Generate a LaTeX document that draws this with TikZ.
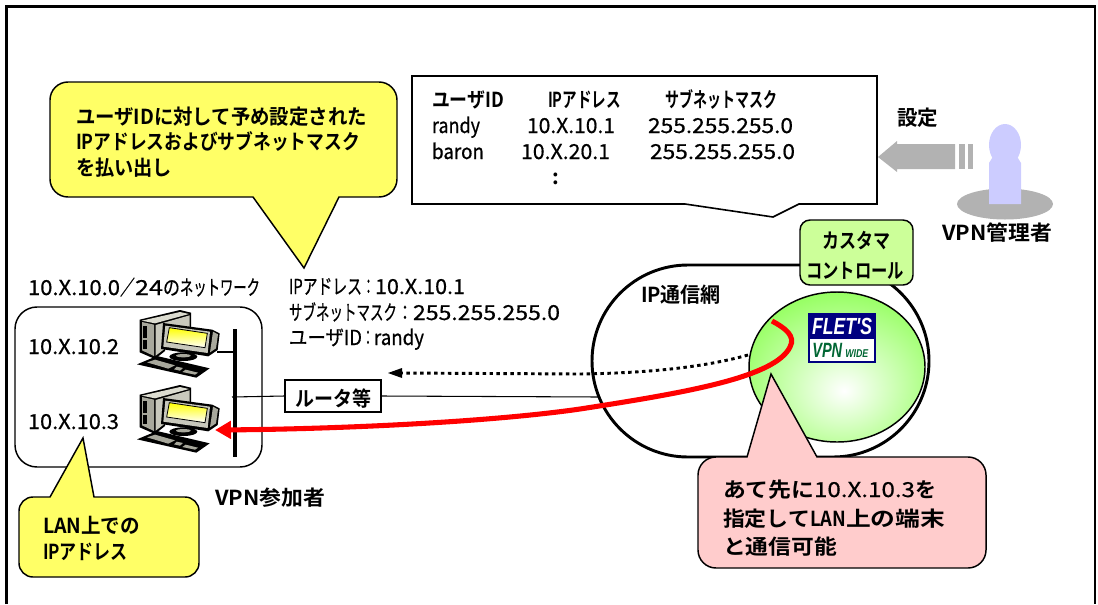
\documentclass[tikz,border=0pt]{standalone}
\usepackage{fontspec}
\usepackage{graphicx}
\setmainfont{Noto Sans CJK JP}[BoldFont=* Bold]
\newfontfamily\medf{Noto Sans CJK JP}[FakeBold=0.6]
\newfontfamily\logofont{Liberation Sans}
\usetikzlibrary{arrows.meta}
\newlength\pxu \setlength\pxu{0.75pt}
\newcommand\tx[2]{\resizebox{#1\pxu}{\height}{#2}}
\definecolor{calloutyellow}{HTML}{FFFF66}
\definecolor{calloutpink}{HTML}{FFCCCC}
\definecolor{boxgreen}{HTML}{CCFF99}
\definecolor{ballgreen}{HTML}{99FF66}
\definecolor{midgray}{HTML}{B2B2B2}
\definecolor{personblue}{HTML}{CCCCFF}
\definecolor{logonavy}{HTML}{000080}
\definecolor{logogreen}{HTML}{006633}
\definecolor{linered}{HTML}{FF0000}
\definecolor{pcface}{HTML}{A8A89C}
\definecolor{pcside}{HTML}{C8C8BC}
\definecolor{pctop}{HTML}{DCDCD0}
\pgfdeclareradialshading{ballshade}{\pgfpoint{2bp}{-8bp}}{color(0bp)=(white);color(30bp)=(ballgreen);color(50bp)=(ballgreen);color(100bp)=(ballgreen)}
\tikzset{
  lbl/.style={anchor=base west,inner sep=0pt,outer sep=0pt,font=\fontsize{15.5pt}{18pt}\selectfont\bfseries},
  reg/.style={lbl,font=\fontsize{15.5pt}{18pt}\selectfont\medf},
  callout/.style={draw=black,line width=1.1pt},
  pc/.pic={
    \begin{scope}[x=0.25pt,y=-0.25pt,draw=black,line width=0.5pt]
      \fill[black] (44,44)--(165,15)--(198,23)--(198,74)--(126,94)--(120,138)--(90,162)--(44,142)--cycle;
      \fill[pctop] (50,47)--(165,21)--(192,27)--(90,55)--cycle;
      \fill[pcface] (51,51)--(87,59)--(87,153)--(51,136)--cycle;
      \fill[pcside] (92,60)--(194,31)--(194,68)--(124,88)--(117,133)--(92,152)--cycle;
      \fill[black] (54,62) rectangle (66,100);
      \fill[black] (54,106) rectangle (66,132);
      \fill[black] (175,155) ellipse (42 and 13);
      \fill[pcface] (175,152) ellipse (22 and 5);
      \fill[black] (36,178)--(96,153)--(254,190)--(214,218)--cycle;
      \fill[pcface] (66,172)--(90,164)--(150,181)--(130,191)--cycle;
      \fill[pcface] (155,185)--(174,189)--(165,197)--(147,193)--cycle;
      \fill[pcface] (182,194)--(219,203)--(210,209)--(172,201)--cycle;
      \fill[black] (114,54)--(262,74)--(284,85)--(278,135)--(250,154)--(108,132)--cycle;
      \fill[pcface] (264,80)--(279,88)--(273,130)--(255,142)--cycle;
      \fill[pcside] (121,62)--(255,80)--(248,144)--(115,125)--cycle;
      \shade[top color=yellow,bottom color=white,draw=black,line width=0.6pt] (133,68)--(247,85)--(240,128)--(125,111)--cycle;
    \end{scope}
  }
}
\begin{document}
\begin{tikzpicture}[x=0.75pt,y=-0.75pt]
\useasboundingbox (0,0) rectangle (1098,604);
% outer frame
\coordinate (fa) at (6.5,604); \coordinate (fb) at (6.5,6.5); \coordinate (fc) at (1095,6.5); \coordinate (fd) at (1095,604);
\draw[line width=1.6pt] (fa)--(fb)--(fc)--(fd);

% LAN box
\draw[line width=1.1pt,rounded corners=16.5pt] (15,307) rectangle (262,467);
% bus and PCs
\coordinate (bust) at (235,329); \coordinate (busb) at (235,457); \coordinate (bushub) at (232,397);
\coordinate (pcport) at (217,352); \coordinate (busport) at (235,352);
\draw[line width=2.4pt] (bust)--(busb);
\draw[line width=1.8pt] (pcport)--(busport);
\pic at (125,305) {pc};
\pic at (125,380) {pc};

% IP network
\draw[line width=2.2pt,rounded corners=72pt] (592,265) rectangle (929,457);
% green ball
\shade[shading=ballshade] (837,367) ellipse (88 and 75);
\draw[line width=1.1pt] (837,367) ellipse (88 and 75);

% logo
\fill[logonavy] (808,313) rectangle (876,363);
\fill[white] (810,339) rectangle (874,361);
\node[inner sep=0pt,text=white,font=\logofont\fontsize{17.5pt}{18pt}\selectfont\bfseries\itshape] (flets) at (842,326) {\resizebox{60\pxu}{\height}{FLET'S}};
\node[anchor=base west,inner sep=0pt,text=logogreen,font=\logofont\fontsize{15.5pt}{16pt}\selectfont\bfseries\itshape] (vpnw) at (812,357) {\resizebox{30\pxu}{\height}{VPN}};
\node[anchor=base west,inner sep=0pt,text=logogreen,font=\logofont\fontsize{8.5pt}{9pt}\selectfont\bfseries\itshape] (wide) at (845,357) {\resizebox{23\pxu}{\height}{WIDE}};

% router and line
\node[draw,line width=1.1pt,minimum width=72pt,minimum height=24pt,inner sep=0pt] (router) at (333,396) {};
\node[lbl] (routertxt) at (295,406) {\tx{76}{ルータ等}};
\coordinate (cloudl) at (600,397);
\draw[line width=0.8pt] (bushub)--(router.west);
\draw[line width=0.8pt] (router.east)--(cloudl);

% dotted
\coordinate (dots) at (748,355); \coordinate (dotm) at (580,374); \coordinate (dote) at (388,373);
\draw[line width=2.2pt,dash pattern=on 2.6pt off 2.6pt] (dots) .. controls (705,367) and (650,373) .. (dotm) -- (400,373);
\fill (dote)--(402,368)--(402,378)--cycle;

% red line
\coordinate (reds) at (772,321); \coordinate (redm) at (790,347); \coordinate (redn) at (580,409); \coordinate (rede) at (215,430);
\draw[linered,line width=3.8pt,-{Triangle[length=12pt,width=13pt]}] (reds) .. controls (785,328) and (796,336) .. (redm) .. controls (775,377) and (690,392) .. (redn) .. controls (490,422) and (340,429) .. (rede);

% green box
\node[draw,fill=boxgreen,line width=1.1pt,rounded corners=7.5pt,minimum width=84.75pt,minimum height=48.75pt,inner sep=0pt] (cust) at (856.5,252.5) {};
\node[lbl] (custa) at (822,248) {\tx{68}{カスタマ}};
\node[lbl] (custb) at (806,278) {\tx{98}{コントロール}};

% table callout
\draw[fill=white,line width=1.2pt] (412,76)--(877,76)--(877,204)--(799,204)--(773,217)--(685,204)--(412,204)--cycle;
\node[lbl] (h1) at (432,107) {\tx{72}{ユーザID}};
\node[lbl] (h2) at (548,107) {\tx{73}{IPアドレス}};
\node[lbl] (h3) at (665,107) {\tx{112}{サブネットマスク}};
\node[reg] (r1) at (432,133) {\tx{48}{randy}};
\node[reg] (r2) at (527,133) {\tx{88}{10.X.10.1}};
\node[reg] (r3) at (648,133) {\tx{145}{255.255.255.0}};
\node[reg] (b1) at (432,159) {\tx{52}{baron}};
\node[reg] (b2) at (521,159) {\tx{89}{10.X.20.1}};
\node[reg] (b3) at (650,159) {\tx{145}{255.255.255.0}};
\node[lbl] (dd) at (552,184) {:};

% grey arrow
\fill[midgray] (878,157)--(897,141)--(897,144)--(955,144)--(955,169)--(897,169)--(897,172)--cycle;
\fill[midgray] (959,144) rectangle (965,169);
\fill[midgray] (968,144) rectangle (973,169);
\node[lbl] (settei) at (897,125) {\tx{41}{設定}};

% admin
\fill[midgray] (1005,204) ellipse (48 and 15.5);
\fill[personblue] (1005,145) ellipse (16 and 21);
\fill[personblue] (989,204)--(989,163)--(994,155)--(1016,155)--(1021,163)--(1021,204)--cycle;
\node[lbl] (admin) at (942,240) {\tx{110}{VPN管理者}};

% yellow callout
\draw[callout,fill=calloutyellow] (200,82) [rounded corners=13.5pt] -- (397,82) -- (397,197) [sharp corners] -- (339,197) -- (304,268) -- (253,197) [rounded corners=13.5pt] -- (50,197) -- (50,82) -- cycle;
\node[lbl] (y1) at (76,124) {\tx{291}{ユーザIDに対して予め設定された}};
\node[lbl] (y2) at (76,149) {\tx{284}{IPアドレスおよびサブネットマスク}};
\node[lbl] (y3) at (76,175) {\tx{96}{を払い出し}};

% info labels
\node[reg] (net) at (28,295) {\tx{92}{10.X.10.0}\tx{15}{／}\tx{28}{24}\tx{17}{の}\tx{80}{ネットワーク}};
\node[reg] (ip1) at (289,294) {\tx{73}{IPアドレス}\tx{13}{：}\tx{90}{10.X.10.1}};
\node[reg] (ip2) at (289,320) {\tx{108}{サブネットマスク}\tx{16}{：}\tx{147}{255.255.255.0}};
\node[reg] (ip3) at (289,345) {\tx{73}{ユーザID}\tx{12}{：}\tx{50}{randy}};
\node[reg] (a2) at (28,354) {\tx{91}{10.X.10.2}};
\node[reg] (a3) at (28,429) {\tx{91}{10.X.10.3}};
\node[lbl] (vpn) at (215,505) {\tx{110}{VPN参加者}};
\node[lbl] (ipnet) at (641,302) {\tx{80}{IP通信網}};

% small yellow callout
\draw[callout,fill=calloutyellow] (150,497) [rounded corners=10.5pt] -- (199,497) -- (199,577) -- (19,577) -- (19,497) [sharp corners] -- (50,497) -- (83,438) -- (94,497) -- cycle;
\node[lbl] (l1) at (43,533) {\tx{97}{LAN上での}};
\node[lbl] (l2) at (43,559) {\tx{85}{IPアドレス}};

% pink callout
\draw[callout,fill=calloutpink] (900,457) [rounded corners=13.5pt] -- (986,457) -- (986,568) -- (698,568) -- (698,457) [sharp corners] -- (747,457) -- (771,374) -- (817,457) -- cycle;
\node[lbl] (p1) at (723,497) {\tx{91}{あて先に}\tx{101}{\mdseries\medf 10.X.10.3}\tx{21}{を}};
\node[lbl] (p2) at (723,526) {\tx{87}{指定して}\tx{36}{LAN}\tx{99}{上の端末}};
\node[lbl] (p3) at (723,554) {\tx{114}{と通信可能}};
\end{tikzpicture}
\end{document}
